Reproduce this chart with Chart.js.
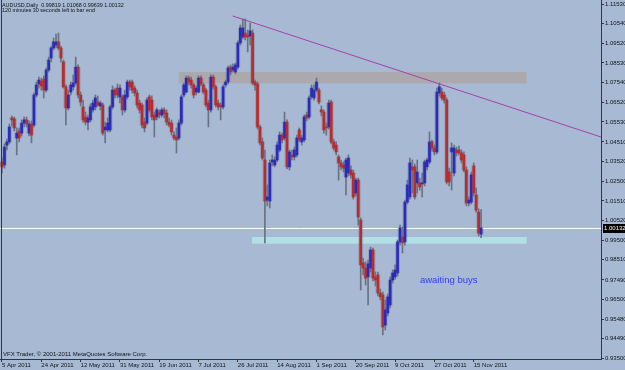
<!DOCTYPE html>
<html lang="en">
<head>
<meta charset="UTF-8">
<title>AUDUSD Daily</title>
<script src="https://cdn.jsdelivr.net/npm/chart.js@4.4.1/dist/chart.umd.min.js"></script>
<style>
  html, body { margin: 0; padding: 0; background: #a7b9d3; }
  canvas { display: block; }
</style>
</head>
<body>
<canvas id="chart" width="625" height="370"></canvas>
<script>
const symbol = 'AUDUSD,Daily'
const timerText = '120 minutes 30 seconds left to bar end'
const copyright = 'VFX Trader, \u00a9 2001-2011 MetaQuotes Software Corp.'

// daily bars, 5 Apr 2011 .. 18 Nov 2011
const opens = [
  1.0349, 1.0334, 1.0435, 1.0451, 1.0573, 1.0568, 1.0471, 1.0507, 1.0496, 1.0547,
  1.0563, 1.0496, 1.0542, 1.0537, 1.0690, 1.0746, 1.0761, 1.0771, 1.0715, 1.0817,
  1.0878, 1.0929, 1.0944, 1.0960, 1.0929, 1.0858, 1.0731, 1.0624, 1.0705, 1.0731,
  1.0751, 1.0832, 1.0690, 1.0629, 1.0578, 1.0552, 1.0563, 1.0614, 1.0629, 1.0654,
  1.0634, 1.0639, 1.0512, 1.0512, 1.0512, 1.0629, 1.0715, 1.0725, 1.0680, 1.0680,
  1.0614, 1.0680, 1.0756, 1.0756, 1.0725, 1.0700, 1.0649, 1.0639, 1.0552, 1.0547,
  1.0680, 1.0664, 1.0588, 1.0578, 1.0603, 1.0588, 1.0614, 1.0598, 1.0552, 1.0547,
  1.0486, 1.0476, 1.0471, 1.0547, 1.0690, 1.0705, 1.0776, 1.0766, 1.0741, 1.0705,
  1.0705, 1.0776, 1.0741, 1.0715, 1.0649, 1.0614, 1.0781, 1.0731, 1.0649, 1.0639,
  1.0629, 1.0741, 1.0756, 1.0832, 1.0817, 1.0807, 1.0832, 1.0955, 1.0985, 1.1005,
  1.0995, 1.0990, 1.1005, 1.0756, 1.0746, 1.0527, 1.0451, 1.0359, 1.0155, 1.0150,
  1.0349, 1.0334, 1.0359, 1.0410, 1.0486, 1.0471, 1.0552, 1.0324, 1.0385, 1.0375,
  1.0385, 1.0512, 1.0451, 1.0461, 1.0588, 1.0578, 1.0680, 1.0675, 1.0715, 1.0715,
  1.0614, 1.0603, 1.0527, 1.0527, 1.0654, 1.0451, 1.0435, 1.0375, 1.0344, 1.0334,
  1.0272, 1.0293, 1.0308, 1.0293, 1.0191, 1.0257, 1.0053, 0.9835, 0.9809, 0.9764,
  0.9809, 0.9901, 0.9764, 0.9774, 0.9682, 0.9672, 0.9519, 0.9580, 0.9621, 0.9748,
  0.9764, 0.9784, 0.9942, 0.9967, 0.9942, 1.0145, 1.0171, 1.0324, 1.0324, 1.0242,
  1.0242, 1.0237, 1.0242, 1.0324, 1.0349, 1.0451, 1.0420, 1.0400, 1.0700, 1.0705,
  1.0690, 1.0664, 1.0298, 1.0400, 1.0293, 1.0410, 1.0410, 1.0395, 1.0385, 1.0308,
  1.0140, 1.0145, 1.0329, 1.0181, 1.0094, 0.99819
]
const highs = [
  1.0369, 1.0441, 1.0466, 1.0542, 1.0583, 1.0578, 1.0522, 1.0522, 1.0563, 1.0578,
  1.0578, 1.0558, 1.0558, 1.0700, 1.0756, 1.0781, 1.0776, 1.0787, 1.0827, 1.0883,
  1.0939, 1.0980, 1.1000, 1.1005, 1.0939, 1.0868, 1.0741, 1.0715, 1.0756, 1.0792,
  1.0883, 1.0843, 1.0705, 1.0664, 1.0603, 1.0588, 1.0644, 1.0664, 1.0690, 1.0685,
  1.0659, 1.0649, 1.0552, 1.0573, 1.0639, 1.0736, 1.0725, 1.0746, 1.0741, 1.0690,
  1.0715, 1.0766, 1.0766, 1.0766, 1.0736, 1.0715, 1.0664, 1.0649, 1.0573, 1.0675,
  1.0690, 1.0685, 1.0603, 1.0624, 1.0614, 1.0624, 1.0624, 1.0614, 1.0573, 1.0563,
  1.0502, 1.0522, 1.0563, 1.0690, 1.0751, 1.0787, 1.0787, 1.0781, 1.0751, 1.0736,
  1.0787, 1.0787, 1.0751, 1.0725, 1.0664, 1.0792, 1.0792, 1.0741, 1.0664, 1.0649,
  1.0741, 1.0766, 1.0837, 1.0843, 1.0848, 1.0853, 1.0965, 1.1046, 1.1077, 1.1077,
  1.1021, 1.1056, 1.1021, 1.0766, 1.0756, 1.0537, 1.0471, 1.0410, 1.0232, 1.0359,
  1.0385, 1.0375, 1.0451, 1.0502, 1.0496, 1.0603, 1.0563, 1.0410, 1.0410, 1.0425,
  1.0486, 1.0522, 1.0486, 1.0588, 1.0603, 1.0685, 1.0741, 1.0741, 1.0776, 1.0725,
  1.0634, 1.0614, 1.0547, 1.0664, 1.0664, 1.0466, 1.0451, 1.0385, 1.0359, 1.0349,
  1.0369, 1.0385, 1.0329, 1.0308, 1.0267, 1.0267, 1.0064, 0.9860, 0.9840, 0.9850,
  0.9916, 0.9911, 0.9789, 0.9789, 0.9702, 0.9687, 0.9647, 0.9677, 0.9764, 0.9799,
  0.9825, 0.9952, 1.0028, 1.0018, 1.0155, 1.0257, 1.0369, 1.0359, 1.0339, 1.0359,
  1.0267, 1.0293, 1.0359, 1.0369, 1.0502, 1.0461, 1.0435, 1.0725, 1.0751, 1.0725,
  1.0705, 1.0675, 1.0318, 1.0446, 1.0435, 1.0425, 1.0430, 1.0410, 1.0400, 1.0324,
  1.0171, 1.0298, 1.0344, 1.0217, 1.0110, 1.01068
]
const lows = [
  1.0293, 1.0318, 1.0410, 1.0441, 1.0532, 1.0507, 1.0385, 1.0451, 1.0481, 1.0527,
  1.0527, 1.0481, 1.0446, 1.0527, 1.0680, 1.0725, 1.0715, 1.0675, 1.0705, 1.0807,
  1.0858, 1.0919, 1.0929, 1.0919, 1.0858, 1.0725, 1.0537, 1.0614, 1.0690, 1.0715,
  1.0741, 1.0675, 1.0634, 1.0552, 1.0537, 1.0512, 1.0552, 1.0603, 1.0614, 1.0634,
  1.0614, 1.0486, 1.0446, 1.0502, 1.0502, 1.0619, 1.0675, 1.0675, 1.0649, 1.0588,
  1.0603, 1.0670, 1.0715, 1.0700, 1.0685, 1.0624, 1.0598, 1.0522, 1.0502, 1.0537,
  1.0603, 1.0563, 1.0476, 1.0563, 1.0573, 1.0578, 1.0573, 1.0537, 1.0527, 1.0486,
  1.0461, 1.0395, 1.0461, 1.0537, 1.0680, 1.0700, 1.0741, 1.0725, 1.0675, 1.0690,
  1.0700, 1.0736, 1.0695, 1.0629, 1.0527, 1.0603, 1.0720, 1.0629, 1.0614, 1.0563,
  1.0619, 1.0731, 1.0746, 1.0792, 1.0807, 1.0797, 1.0822, 1.0944, 1.0975, 1.0970,
  1.0909, 1.0944, 1.0741, 1.0715, 1.0517, 1.0435, 1.0359, 0.9937, 1.0125, 1.0115,
  1.0329, 1.0324, 1.0349, 1.0400, 1.0446, 1.0461, 1.0313, 1.0308, 1.0359, 1.0359,
  1.0375, 1.0451, 1.0435, 1.0451, 1.0558, 1.0568, 1.0670, 1.0664, 1.0705, 1.0644,
  1.0583, 1.0496, 1.0486, 1.0517, 1.0441, 1.0410, 1.0385, 1.0257, 1.0308, 1.0298,
  1.0181, 1.0278, 1.0267, 1.0160, 1.0176, 1.0028, 0.9697, 0.9774, 0.9723, 0.9621,
  0.9789, 0.9743, 0.9718, 0.9667, 0.9647, 0.9469, 0.9494, 0.9565, 0.9606, 0.9733,
  0.9753, 0.9769, 0.9926, 0.9886, 0.9926, 1.0135, 1.0160, 1.0191, 1.0160, 1.0191,
  1.0206, 1.0171, 1.0227, 1.0308, 1.0339, 1.0405, 1.0385, 1.0390, 1.0685, 1.0664,
  1.0649, 1.0237, 1.0227, 1.0206, 1.0278, 1.0380, 1.0385, 1.0344, 1.0298, 1.0125,
  1.0125, 1.0135, 1.0176, 1.0094, 0.9972, 0.99639
]
const closes = [
  1.0324, 1.0425, 1.0451, 1.0527, 1.0563, 1.0522, 1.0496, 1.0471, 1.0547, 1.0563,
  1.0542, 1.0542, 1.0486, 1.0690, 1.0741, 1.0766, 1.0736, 1.0715, 1.0817, 1.0868,
  1.0929, 1.0960, 1.0960, 1.0929, 1.0878, 1.0731, 1.0624, 1.0690, 1.0741, 1.0751,
  1.0832, 1.0690, 1.0654, 1.0563, 1.0552, 1.0573, 1.0629, 1.0649, 1.0675, 1.0639,
  1.0649, 1.0496, 1.0527, 1.0547, 1.0629, 1.0715, 1.0690, 1.0690, 1.0725, 1.0614,
  1.0690, 1.0756, 1.0731, 1.0715, 1.0700, 1.0639, 1.0614, 1.0537, 1.0522, 1.0664,
  1.0614, 1.0578, 1.0563, 1.0614, 1.0588, 1.0614, 1.0593, 1.0552, 1.0537, 1.0502,
  1.0471, 1.0461, 1.0547, 1.0680, 1.0741, 1.0776, 1.0756, 1.0741, 1.0690, 1.0725,
  1.0776, 1.0746, 1.0705, 1.0639, 1.0614, 1.0781, 1.0731, 1.0639, 1.0629, 1.0629,
  1.0731, 1.0756, 1.0827, 1.0807, 1.0832, 1.0843, 1.0955, 1.1031, 1.1031, 1.0985,
  1.0985, 1.1016, 1.0751, 1.0741, 1.0527, 1.0446, 1.0369, 1.0150, 1.0171, 1.0344,
  1.0359, 1.0359, 1.0435, 1.0486, 1.0461, 1.0552, 1.0324, 1.0400, 1.0375, 1.0410,
  1.0471, 1.0461, 1.0471, 1.0578, 1.0573, 1.0675, 1.0725, 1.0715, 1.0756, 1.0654,
  1.0603, 1.0512, 1.0522, 1.0649, 1.0451, 1.0420, 1.0400, 1.0344, 1.0324, 1.0318,
  1.0359, 1.0369, 1.0283, 1.0171, 1.0257, 1.0069, 0.9825, 0.9809, 0.9758, 0.9830,
  0.9901, 0.9758, 0.9748, 0.9682, 0.9662, 0.9509, 0.9596, 0.9662, 0.9748, 0.9784,
  0.9799, 0.9942, 1.0013, 0.9937, 1.0145, 1.0232, 1.0344, 1.0308, 1.0171, 1.0298,
  1.0222, 1.0242, 1.0349, 1.0359, 1.0451, 1.0420, 1.0400, 1.0705, 1.0731, 1.0675,
  1.0664, 1.0247, 1.0247, 1.0420, 1.0420, 1.0395, 1.0395, 1.0359, 1.0308, 1.0140,
  1.0155, 1.0283, 1.0191, 1.0104, 0.9987, 1.00132
]

// time axis: bar index of each date label
const dateTicks = [0, 16, 32, 48, 64, 80, 96, 112, 128, 144, 160, 176, 192]
const dateLabels = ['5 Apr 2011', '24 Apr 2011', '12 May 2011', '31 May 2011', '19 Jun 2011',
  '7 Jul 2011', '26 Jul 2011', '14 Aug 2011', '1 Sep 2011', '20 Sep 2011',
  '9 Oct 2011', '27 Oct 2011', '15 Nov 2011']

const priceTicks = [1.1153, 1.1054, 1.0952, 1.0853, 1.0754, 1.0652, 1.0553, 1.0451, 1.0352,
  1.0250, 1.0151, 1.0052, 0.9950, 0.9851, 0.9749, 0.9650, 0.9548, 0.9449, 0.9350]

// chart objects: [barFrom, barTo, priceTop, priceBottom]
const resistZone = [72, 213.5, 1.0807, 1.0749]
const supportZone = [101.7, 213.5, 0.9967, 0.9933]
const trendBars = [93.9, 243.8]
const trendPrices = [1.1092, 1.0476]
const noteText = 'awaiting buys'
const noteAt = [170.1, 0.9748]

window.onload = function() {
  const ctx = document.getElementById('chart').getContext('2d')
  const last = closes.length - 1
  const bg = '#a7b9d3'
  const axisColor = '#2e3644'
  const tickFont = { family: 'Liberation Sans', size: 6 }

  const wickData = opens.map((o, i) => ({ x: i, y: [lows[i], highs[i]] }))
  const bodyData = opens.map((o, i) => ({ x: i, y: [o, closes[i]] }))
  const bodyColors = opens.map((o, i) => closes[i] >= o ? '#2a2abc' : '#bc2a2a')

  const chartObjects = {
    id: 'chartObjects',
    beforeDraw(chart) {
      const c = chart.ctx
      c.save()
      c.fillStyle = bg
      c.fillRect(0, 0, chart.width, chart.height)
      c.restore()
    },
    beforeDatasetsDraw(chart) {
      const { ctx: c, chartArea: a, scales: { x, y } } = chart
      c.save()
      c.beginPath()
      c.rect(a.left, a.top, a.right - a.left, a.bottom - a.top)
      c.clip()
      const zone = (z, color) => {
        const x1 = x.getPixelForValue(z[0]), x2 = x.getPixelForValue(z[1])
        const y1 = y.getPixelForValue(z[2]), y2 = y.getPixelForValue(z[3])
        c.fillStyle = color
        c.fillRect(x1, y1, x2 - x1, y2 - y1)
      }
      zone(resistZone, '#aba9ae')
      zone(supportZone, '#b0e0e4')
      // bid line
      const yb = Math.round(y.getPixelForValue(closes[last])) + 0.5
      c.strokeStyle = '#ffffff'
      c.lineWidth = 1
      c.beginPath()
      c.moveTo(a.left, yb)
      c.lineTo(a.right, yb)
      c.stroke()
      c.restore()
    },
    afterDraw(chart) {
      const { ctx: c, chartArea: a, scales: { x, y } } = chart
      c.save()
      // left frame
      c.strokeStyle = axisColor
      c.lineWidth = 1
      c.beginPath()
      c.moveTo(a.left + 1.5, a.top)
      c.lineTo(a.left + 1.5, a.bottom)
      c.stroke()

      c.fillStyle = '#101418'
      c.textBaseline = 'middle'
      c.textAlign = 'left'
      c.font = '5.4px "Liberation Sans"'
      const ohlc = [opens[last], highs[last], lows[last], closes[last]].map(v => v.toFixed(5)).join(' ')
      c.fillText(symbol + '  ' + ohlc, 2, 5.5)
      c.fillText(timerText, 2, 10.5)
      c.font = '6px "Liberation Sans"'
      c.fillText(copyright, 3, 354.5)

      c.fillStyle = '#3540ee'
      c.font = '9.5px "Liberation Sans"'
      c.fillText(noteText, x.getPixelForValue(noteAt[0]), y.getPixelForValue(noteAt[1]))

      // current price box on the axis
      const yb = Math.round(y.getPixelForValue(closes[last]))
      c.fillStyle = '#000000'
      c.fillRect(a.right + 2, yb - 4, chart.width - a.right - 2, 9)
      c.fillStyle = '#ffffff'
      c.font = '6px "Liberation Sans"'
      c.fillText(closes[last].toFixed(5), a.right + 3, yb + 0.5)
      c.restore()
    }
  }

  new Chart(ctx, {
    type: 'bar',
    data: {
      datasets: [
        {
          type: 'line',
          data: trendBars.map((b, i) => ({ x: b, y: trendPrices[i] })),
          borderColor: '#a542a8',
          borderWidth: 1,
          pointRadius: 0,
          order: 0
        },
        {
          data: bodyData,
          backgroundColor: bodyColors,
          barThickness: 2,
          minBarLength: 1,
          grouped: false,
          order: 1
        },
        {
          data: wickData,
          backgroundColor: '#6a7282',
          barThickness: 1,
          grouped: false,
          order: 2
        },
        {
          // soft grey edge round each body
          data: bodyData,
          backgroundColor: 'rgba(100,106,122,0.35)',
          barThickness: 4,
          minBarLength: 2,
          grouped: false,
          order: 3
        }
      ]
    },
    options: {
      responsive: false,
      animation: false,
      devicePixelRatio: 1,
      layout: { padding: 0 },
      plugins: { legend: { display: false }, tooltip: { enabled: false } },
      scales: {
        x: {
          type: 'linear',
          min: -0.814,
          max: 243.8,
          offset: false,
          grid: { offset: false, drawOnChartArea: false, tickLength: 3, color: axisColor },
          border: { display: true, color: axisColor },
          afterBuildTicks: (scale) => { scale.ticks = dateTicks.map(v => ({ value: v })) },
          afterFit: (scale) => {
            scale.height = 11
            scale.paddingLeft = 0
            scale.paddingRight = 0
          },
          ticks: {
            autoSkip: false,
            maxRotation: 0,
            align: 'start',
            padding: 0,
            color: '#101418',
            font: tickFont,
            callback: (value) => dateLabels[dateTicks.indexOf(value)]
          }
        },
        y: {
          position: 'right',
          min: 0.93461,
          max: 1.11734,
          grid: { drawOnChartArea: false, tickLength: 3, color: axisColor },
          border: { display: true, color: axisColor },
          afterBuildTicks: (scale) => { scale.ticks = priceTicks.map(v => ({ value: v })) },
          afterFit: (scale) => {
            scale.width = 24
            scale.paddingTop = 0
            scale.paddingBottom = 0
          },
          ticks: {
            padding: 1,
            color: '#101418',
            font: tickFont,
            callback: (value) => value.toFixed(5)
          }
        }
      }
    },
    plugins: [chartObjects]
  })
}
</script>
</body>
</html>
